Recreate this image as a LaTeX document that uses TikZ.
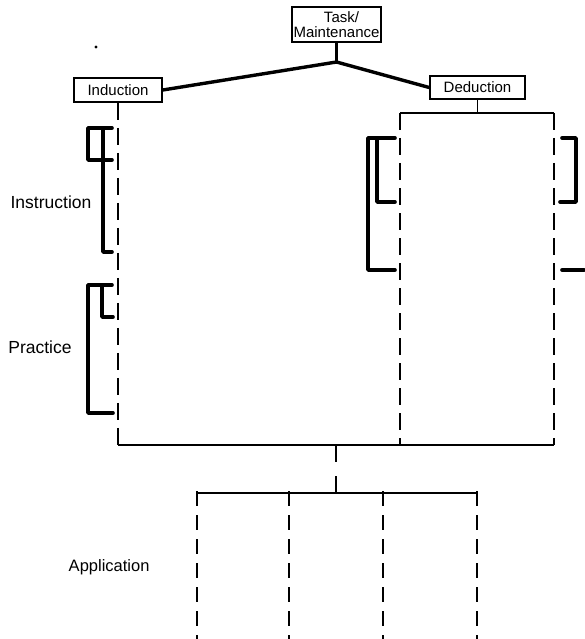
\documentclass[tikz,border=0pt]{standalone}
\usepackage{fontspec}
\setmainfont{Liberation Sans}
\begin{document}
\begin{tikzpicture}[x=1pt,y=-1pt,
  box/.style={draw, line width=1.6pt, inner sep=0pt, align=center,
    font=\fontsize{15}{15.5}\selectfont},
  heavy/.style={line width=3.4pt},
  thinline/.style={line width=1.8pt},
  dashline/.style={line width=1.6pt, dash pattern=on 17pt off 8pt},
  bracketline/.style={line width=3.6pt, line cap=round, line join=round},
  lab/.style={font=\fontsize{17.5}{18}\selectfont}]
\useasboundingbox (0,0) rectangle (584,639);

% boxes
\node[box, minimum width=89pt, minimum height=35pt] (task) at (336.5,24.5) {\hspace*{10pt}Task/\\Maintenance};
\node[box, minimum width=88pt, minimum height=24pt] (ind) at (118,90) {Induction};
\node[box, minimum width=95pt, minimum height=23pt] (ded) at (477.5,87.5) {Deduction};

% labels
\node[lab] (linstr) at (51,202) {Instruction};
\node[lab] (lprac) at (40,347) {Practice};
\node[lab, font=\fontsize{16.5}{17}\selectfont, anchor=east] (lapp) at (153,567) {Application};

% stray dot
\fill (96,47) circle (1.6pt);

% top connectors
\coordinate (jn) at (336.5,62);
\draw[heavy] (task.south) -- (jn);
\draw[heavy] (ind.east) -- (jn) -- (ded.west);

% induction dashed line
\coordinate (indbot) at (118,445);
\draw[dashline] (ind.south) -- (indbot);

% deduction frame
\coordinate (dl) at (400,113);
\coordinate (dr) at (554,113);
\coordinate (dlb) at (400,445);
\coordinate (drb) at (554,445);
\draw[thinline] (ded.south) -- (ded.south |- dl);
\draw[thinline] (dl) -- (dr);
\draw[dashline] (dl) -- (dlb);
\draw[dashline] (dr) -- (drb);

% main horizontal
\draw[thinline] (indbot) -- (drb);

% stem down to application
\coordinate (st) at (336,445);
\coordinate (ab) at (336,493);
\draw[thinline, dash pattern=on 17pt off 14pt] (st) -- (ab);

% application bar and verticals
\coordinate (a1) at (197,493);
\coordinate (a2) at (289,493);
\coordinate (a3) at (383,493);
\coordinate (a4) at (477,493);
\draw[thinline] (a1) -- (a4);
\foreach \c in {a1,a2,a3,a4}
  \draw[dashline, dash pattern=on 15pt off 9pt] ([yshift=2pt]\c) -- (\c |- 0,639);

% instruction brackets
\draw[bracketline] (112,128) -- (88,128) -- (88,160) -- (112,160);
\draw[bracketline] (103,128) -- (103,252) -- (112,252);

% practice brackets
\draw[bracketline] (112,285) -- (88,285) -- (88,413) -- (113,413);
\draw[bracketline] (102,285) -- (102,317) -- (113,317);

% deduction left brackets
\draw[bracketline] (395,138) -- (368,138) -- (368,270) -- (395,270);
\draw[bracketline] (377,138) -- (377,202) -- (395,202);

% deduction right brackets
\draw[bracketline] (562,138) -- (576,138) -- (576,202) -- (560,202);
\draw[bracketline] (562,270) -- (584,270);
\end{tikzpicture}
\end{document}
